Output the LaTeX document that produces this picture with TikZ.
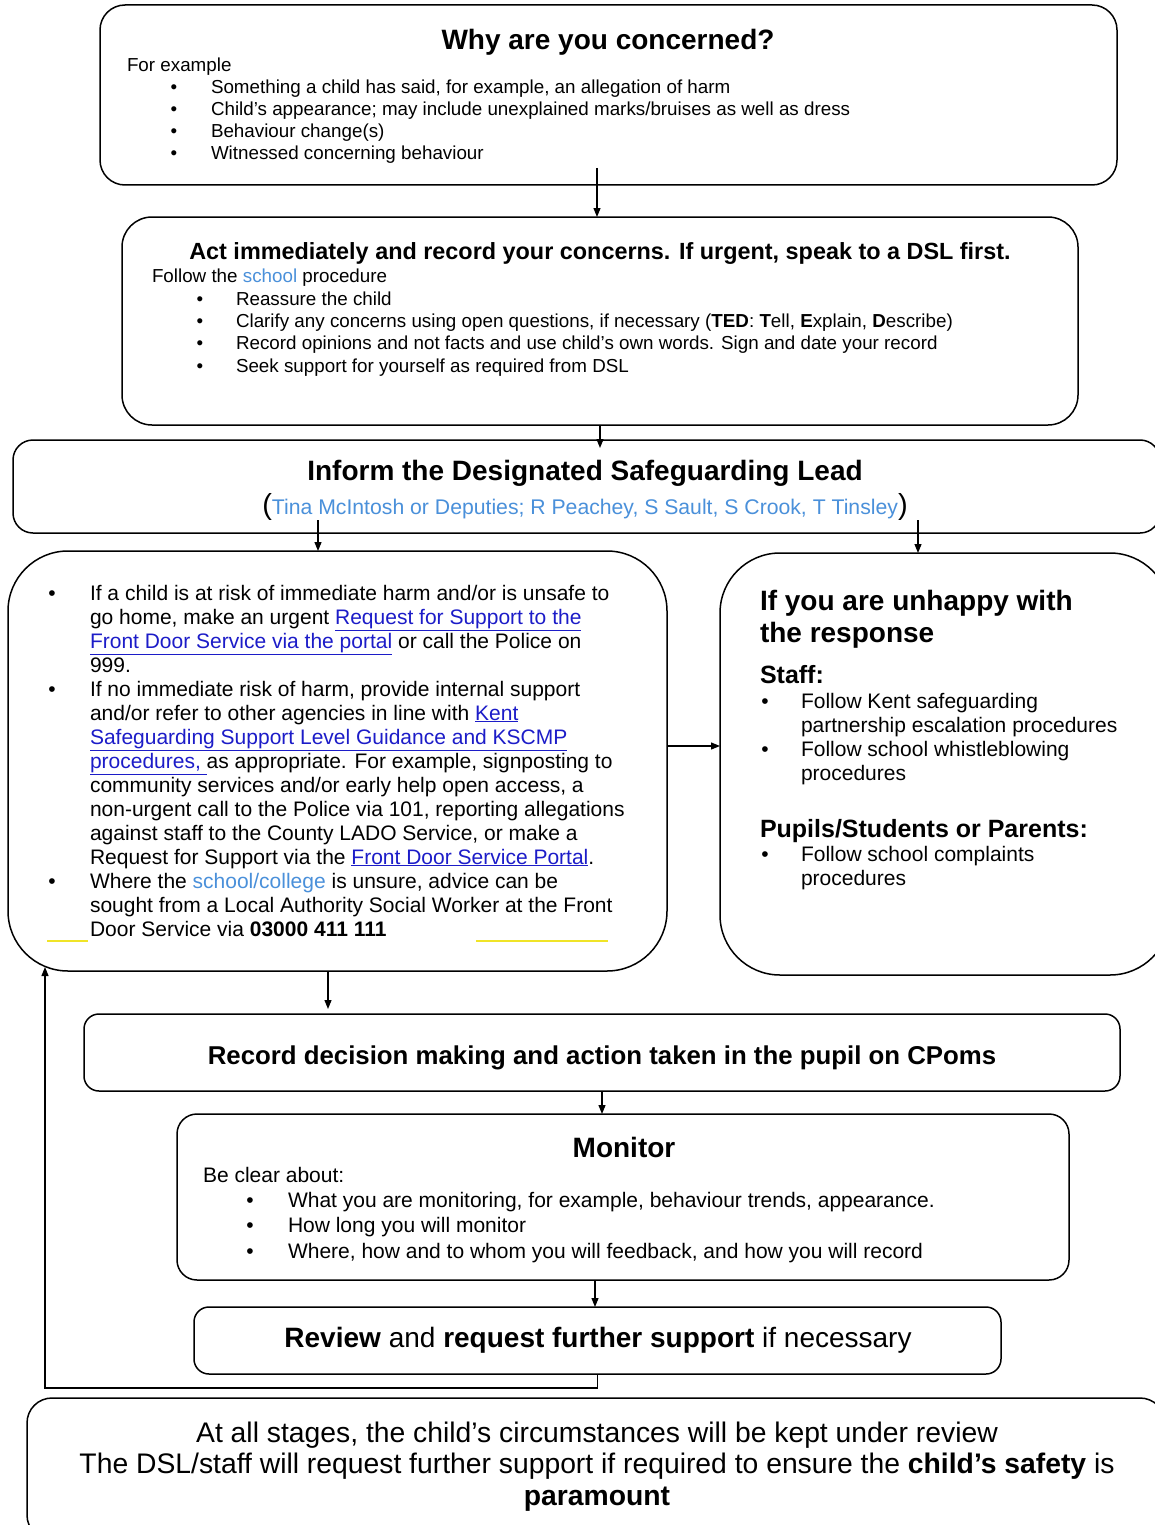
\documentclass[tikz,border=0pt]{standalone}
\usepackage{fontspec}
\setmainfont{Liberation Sans}
\usetikzlibrary{arrows.meta}
\definecolor{linkblue}{RGB}{28,28,200}
\definecolor{lightblue}{RGB}{74,144,218}
\definecolor{hlyellow}{RGB}{240,228,40}
\newcommand\lnk[1]{\textcolor{linkblue}{\underline{#1}}}
\newcommand\lbl[1]{\textcolor{lightblue}{#1}}
\newcommand\fs[1]{\fontsize{#1}{#1}\selectfont}
% #1 name, #2 bullet x, #3 text x, #4 baseline y, #5 text
\newcommand\bitem[5]{%
  \node[tc] (#1b) at (#2,#4) {\textbullet};
  \node[tl] (#1) at (#3,#4) {#5};}
\begin{document}
\begin{tikzpicture}[x=1pt,y=-1pt,
  box/.style={draw, line width=1.5pt, rounded corners=#1, inner sep=0pt, outer sep=0pt, fill=none},
  tl/.style={anchor=base west, inner sep=0pt, outer sep=0pt},
  tc/.style={anchor=base, inner sep=0pt, outer sep=0pt},
  arr/.style={line width=1.2pt, -{Triangle[length=9pt,width=7pt]}}]
\fill[white] (0,0) rectangle (1155,1525);
\useasboundingbox (0,0) rectangle (1155,1525);

% ---------- boxes ----------
\node[box=25pt, minimum width=1017pt, minimum height=180pt] (bWhy) at (608.5,95) {};
\node[box=30pt, minimum width=956pt, minimum height=208pt] (bAct) at (600,321) {};
\node[box=20pt, minimum width=1147pt, minimum height=93pt] (bDSL) at (586.5,486.5) {};
\node[box=60pt, minimum width=659pt, minimum height=420pt] (bLeft) at (337.5,761) {};
\node[box=60pt, minimum width=450pt, minimum height=422pt] (bRight) at (945,764) {};
\node[box=15pt, minimum width=1036pt, minimum height=77pt] (bRec) at (602,1052.5) {};
\node[box=20pt, minimum width=892pt, minimum height=166pt] (bMon) at (623,1197) {};
\node[box=15pt, minimum width=807pt, minimum height=67pt] (bRev) at (597.5,1340.5) {};
\node[box=25pt, minimum width=1138pt, minimum height=142pt] (bBot) at (596,1469) {};

% ---------- top box ----------
\node[tc, font=\bfseries\fs{28}] (tWhy) at (608,50) {Why are you concerned?};
\begin{scope}[font=\fs{18.8}]
\node[tl] (tFor) at (127,72) {For example};
\bitem{w1}{174}{211}{94}{Something a child has said, for example, an allegation of harm}
\bitem{w2}{174}{211}{116}{Child's appearance; may include unexplained marks/bruises as well as dress}
\bitem{w3}{174}{211}{138}{Behaviour change(s)}
\bitem{w4}{174}{211}{160}{Witnessed concerning behaviour}
\end{scope}

% ---------- act box ----------
\node[tc, font=\bfseries\fs{23.4}] (tAct) at (600,259) {Act immediately and record your concerns. If urgent, speak to a DSL first.};
\begin{scope}[font=\fs{18.8}]
\node[tl] (tFollow) at (152,282) {Follow the \lbl{school} procedure};
\bitem{c1}{200}{236}{305}{Reassure the child}
\bitem{c2}{200}{236}{327}{Clarify any concerns using open questions, if necessary (\textbf{TED}: \textbf{T}ell, \textbf{E}xplain, \textbf{D}escribe)}
\bitem{c3}{200}{236}{349}{Record opinions and not facts and use child’s own words. Sign and date your record}
\bitem{c4}{200}{236}{372}{Seek support for yourself as required from DSL}
\end{scope}

% ---------- DSL box ----------
\node[tc, font=\bfseries\fs{28}] (tDSL) at (585,480) {Inform the Designated Safeguarding Lead};
\node[tc, font=\fs{21.2}] (tDSL2) at (585,514) {{\fs{29}(}\lbl{Tina McIntosh or Deputies; R Peachey, S Sault, S Crook, T Tinsley}{\fs{29})}};

% ---------- left box ----------
\begin{scope}[font=\fs{21}]
\bitem{l1}{52}{90}{600}{If a child is at risk of immediate harm and/or is unsafe to}
\node[tl] (l2) at (90,624) {go home, make an urgent \lnk{Request for Support to the}};
\node[tl] (l3) at (90,648) {\lnk{Front Door Service via the portal} or call the Police on};
\node[tl] (l4) at (90,672) {999.};
\bitem{l5}{52}{90}{696}{If no immediate risk of harm, provide internal support}
\node[tl] (l6) at (90,720) {and/or refer to other agencies in line with \lnk{Kent}};
\node[tl] (l7) at (90,744) {\lnk{Safeguarding Support Level Guidance and KSCMP}};
\node[tl] (l8) at (90,768) {\lnk{procedures,\ }as appropriate. For example, signposting to};
\node[tl] (l9) at (90,792) {community services and/or early help open access, a};
\node[tl] (l10) at (90,816) {non-urgent call to the Police via 101, reporting allegations};
\node[tl] (l11) at (90,840) {against staff to the County LADO Service, or make a};
\node[tl] (l12) at (90,864) {Request for Support via the \lnk{Front Door Service Portal}.};
\bitem{l13}{52}{90}{888}{Where the \lbl{school/college} is unsure, advice can be}
\node[tl] (l14) at (90,912) {sought from a Local Authority Social Worker at the Front};
\node[tl] (l15) at (90,936) {Door Service via \textbf{03000 411 111}};
\end{scope}
\draw[hlyellow, line width=1.5pt] (47,941) -- (88,941);
\draw[hlyellow, line width=1.5pt] (476,941) -- (608,941);

% ---------- right box ----------
\node[tl, font=\bfseries\fs{28}] (r1) at (760,610) {If you are unhappy with};
\node[tl, font=\bfseries\fs{28}] (r2) at (760,642) {the response};
\node[tl, font=\bfseries\fs{25}] (r3) at (760,683) {Staff:};
\begin{scope}[font=\fs{21}]
\bitem{r4}{765}{801}{708}{Follow Kent safeguarding}
\node[tl] (r5) at (801,732) {partnership escalation procedures};
\bitem{r6}{765}{801}{756}{Follow school whistleblowing}
\node[tl] (r7) at (801,780) {procedures};
\end{scope}
\node[tl, font=\bfseries\fs{25}] (r8) at (760,837) {Pupils/Students or Parents:};
\begin{scope}[font=\fs{21}]
\bitem{r9}{765}{801}{861}{Follow school complaints}
\node[tl] (r10) at (801,885) {procedures};
\end{scope}

% ---------- record box ----------
\node[tc, font=\bfseries\fs{25.8}] (tRec) at (602,1064) {Record decision making and action taken in the pupil on CPoms};

% ---------- monitor box ----------
\node[tc, font=\bfseries\fs{28}] (tMon) at (624,1157) {Monitor};
\begin{scope}[font=\fs{21}]
\node[tl] (tBe) at (203,1182) {Be clear about:};
\bitem{m1}{250}{288}{1207}{What you are monitoring, for example, behaviour trends, appearance.}
\bitem{m2}{250}{288}{1232}{How long you will monitor}
\bitem{m3}{250}{288}{1258}{Where, how and to whom you will feedback, and how you will record}
\end{scope}

% ---------- review box ----------
\node[tc, font=\fs{28}] (tRev) at (598,1347) {\textbf{Review} and \textbf{request further support} if necessary};

% ---------- bottom box ----------
\begin{scope}[font=\fs{28.3}]
\node[tc] (bt1) at (597,1442) {At all stages, the child’s circumstances will be kept under review};
\node[tc] (bt2) at (597,1473) {The DSL/staff will request further support if required to ensure the \textbf{child’s safety} is};
\node[tc] (bt3) at (597,1505) {\textbf{paramount}};
\end{scope}

% ---------- connectors ----------
\coordinate (a1) at (597,168);
\draw[arr] (a1) -- (a1 |- bAct.north);
\coordinate (a2) at (600,448);
\draw[arr] (bAct.south) -- (a2);
\coordinate (a3) at (318,520);
\draw[arr] (a3) -- (a3 |- bLeft.north);
\coordinate (a4) at (918,520);
\draw[arr] (a4) -- (a4 |- bRight.north);
\draw[arr] ([yshift=15pt]bLeft.east) -- ([yshift=18pt]bRight.west);
\coordinate (a5) at (328,971);
\draw[arr, shorten >=5pt] (a5) -- (a5 |- bRec.north);
\draw[arr] (bRec.south) -- (bRec.south |- bMon.north);
\coordinate (a6) at (595,1280);
\draw[arr] (a6) -- (a6 |- bRev.north);
\coordinate (fb) at (45,967);
\draw[arr] (bRev.south) -- ++(0,14) -| (fb);
\end{tikzpicture}
\end{document}
